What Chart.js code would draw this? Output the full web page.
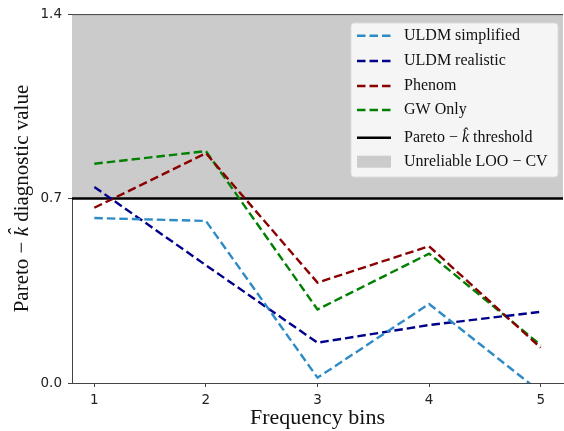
<!DOCTYPE html>
<html lang="en">
<head>
    <meta charset="UTF-8">
    <title>Pareto k diagnostic</title>
    <script src="https://cdn.jsdelivr.net/npm/chart.js"></script>
    <style>
        body { margin: 0; background: #fff; }
        #wrap { width: 564px; height: 431px; }
    </style>
</head>
<body>
    <div id="wrap"><canvas id="paretoChart" width="564" height="431"></canvas></div>

    <script>
        // frequency bins and Pareto-k values
        const bins = [1, 2, 3, 4, 5];
        const uldmSimplified = [0.626, 0.615, 0.02, 0.30, -0.035];
        const uldmRealistic = [0.744, 0.447, 0.153, 0.22, 0.27];
        const phenom = [0.665, 0.872, 0.381, 0.519, 0.134];
        const gwOnly = [0.832, 0.880, 0.279, 0.491, 0.144];
        const threshold = 0.7;
        const yTicks = [0.0, 0.7, 1.4];

        const pts = vals => bins.map((b, i) => ({ x: b, y: vals[i] }));
        const DASH = [8.5, 4];
        const SERIF = '"Liberation Serif"';

        const series = [
            { label: 'ULDM simplified', data: uldmSimplified, color: '#2e8bc6' },
            { label: 'ULDM realistic', data: uldmRealistic, color: '#00008b' },
            { label: 'Phenom', data: phenom, color: '#8b0000' },
            { label: 'GW Only', data: gwOnly, color: '#008000' }
        ];

        const datasets = series.map(s => ({
            label: s.label,
            data: pts(s.data),
            borderColor: s.color,
            borderWidth: 2.4,
            borderDash: DASH,
            pointRadius: 0,
            fill: false,
            tension: 0,
            clip: 0
        }));

        // grey region above the threshold + black threshold line
        datasets.push({
            label: 'Pareto threshold',
            data: [{ x: 0.8, y: threshold }, { x: 5.2, y: threshold }],
            borderColor: '#000',
            borderWidth: 2.5,
            backgroundColor: '#cbcbcb',
            pointRadius: 0,
            fill: 'end',
            order: 10
        });

        // draw text made of several font pieces, starting at x
        function drawPieces(c, parts, x, y) {
            parts.forEach(p => {
                c.font = p[1];
                c.fillText(p[0], x, y);
                x += c.measureText(p[0]).width;
            });
        }
        function piecesWidth(c, parts) {
            let w = 0;
            parts.forEach(p => { c.font = p[1]; w += c.measureText(p[0]).width; });
            return w;
        }

        // top spine, y title and the legend box drawn by hand
        const extras = {
            id: 'extras',
            afterDraw(chart) {
                const c = chart.ctx, a = chart.chartArea;
                c.save();
                c.strokeStyle = '#444';
                c.lineWidth = 1;
                c.beginPath();
                c.moveTo(a.left, a.top + 0.5);
                c.lineTo(a.right, a.top + 0.5);
                c.stroke();

                // y axis title with italic k-hat
                const f = '21px ' + SERIF;
                const yParts = [
                    ['Pareto', f],
                    [' \u2212 ', f],
                    ['k\u0302', 'italic ' + f],
                    [' diagnostic value', f]
                ];
                c.save();
                c.translate(22, (a.top + a.bottom) / 2);
                c.rotate(-Math.PI / 2);
                c.fillStyle = '#111';
                c.textBaseline = 'middle';
                drawPieces(c, yParts, -piecesWidth(c, yParts) / 2, 0);
                c.restore();

                // legend
                const lx = 351, ly = 23, lw = 207, lh = 154;
                c.fillStyle = 'rgba(255,255,255,0.8)';
                c.strokeStyle = '#dcdcdc';
                c.beginPath();
                c.roundRect(lx, ly, lw, lh, 3);
                c.fill();
                c.stroke();

                const rows = [35.7, 61, 86, 110, 137.7, 161.7];
                const sx0 = 357, sx1 = 391, tx = 404;
                const lf = '16px ' + SERIF;
                c.textBaseline = 'middle';
                series.forEach((s, i) => {
                    c.strokeStyle = s.color;
                    c.lineWidth = 2.4;
                    c.setLineDash(DASH);
                    c.beginPath();
                    c.moveTo(sx0, rows[i]);
                    c.lineTo(sx1, rows[i]);
                    c.stroke();
                    c.fillStyle = '#111';
                    c.font = lf;
                    c.fillText(s.label, tx, rows[i]);
                });
                c.setLineDash([]);
                c.strokeStyle = '#000';
                c.lineWidth = 2.5;
                c.beginPath();
                c.moveTo(sx0, rows[4]);
                c.lineTo(sx1, rows[4]);
                c.stroke();
                c.fillStyle = '#111';
                drawPieces(c, [
                    ['Pareto', lf],
                    [' \u2212 ', lf],
                    ['k\u0302', 'italic ' + lf],
                    [' threshold', lf]
                ], tx, rows[4]);
                c.fillStyle = '#cbcbcb';
                c.fillRect(sx0, rows[5] - 6, sx1 - sx0, 12);
                c.fillStyle = '#111';
                c.font = lf;
                c.fillText('Unreliable LOO \u2212 CV', tx, rows[5]);
                c.restore();
            }
        };

        new Chart(document.getElementById('paretoChart'), {
            type: 'line',
            data: { datasets: datasets },
            options: {
                responsive: false,
                animation: false,
                layout: { padding: { left: 0, right: 1, top: 14, bottom: 0 } },
                plugins: {
                    legend: { display: false },
                    tooltip: { enabled: false }
                },
                scales: {
                    x: {
                        type: 'linear',
                        min: 0.8,
                        max: 5.2,
                        afterBuildTicks: s => { s.ticks = bins.map(v => ({ value: v })); },
                        afterFit: s => { s.height = 48; },
                        grid: { drawOnChartArea: false, drawTicks: true, tickLength: 4, color: '#444' },
                        border: { display: true, color: '#444', width: 1 },
                        ticks: {
                            color: '#222',
                            padding: 5,
                            font: { family: 'DejaVu Sans', size: 13.5 },
                            callback: v => String(v)
                        },
                        title: {
                            display: true,
                            text: 'Frequency bins',
                            color: '#111',
                            font: { family: 'Liberation Serif', size: 22 },
                            padding: { top: 0, bottom: 0 }
                        }
                    },
                    y: {
                        min: 0,
                        max: 1.4,
                        afterBuildTicks: s => { s.ticks = yTicks.map(v => ({ value: v })); },
                        afterFit: s => { s.width = 72; },
                        grid: { drawOnChartArea: false, drawTicks: true, tickLength: 4, color: '#444' },
                        border: { display: true, color: '#444', width: 1 },
                        ticks: {
                            color: '#222',
                            padding: 6,
                            font: { family: 'DejaVu Sans', size: 13.5 },
                            callback: v => v.toFixed(1)
                        },
                        title: { display: false }
                    }
                }
            },
            plugins: [extras]
        });
    </script>
</body>
</html>
